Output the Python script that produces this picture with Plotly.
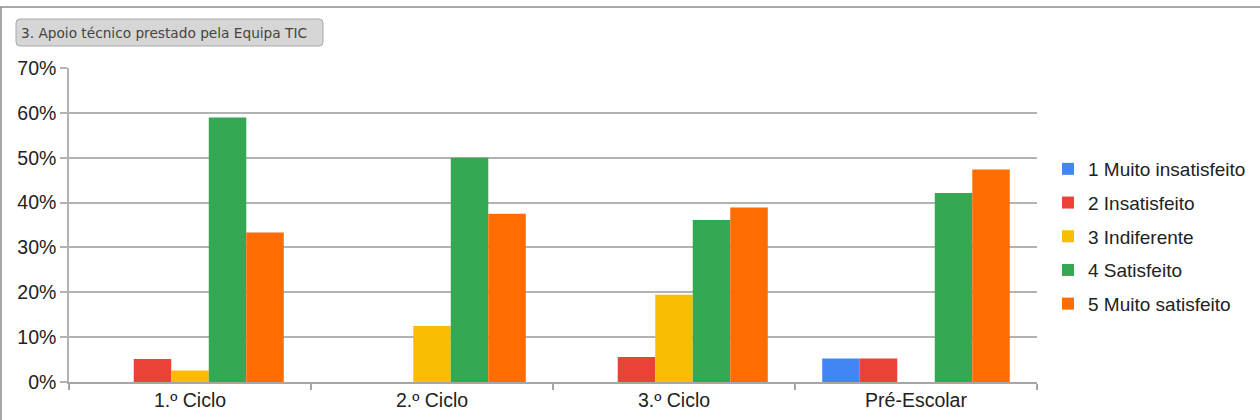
import plotly.graph_objects as go

categories = ["1.º Ciclo", "2.º Ciclo", "3.º Ciclo", "Pré-Escolar"]
series_names = ["1 Muito insatisfeito", "2 Insatisfeito", "3 Indiferente", "4 Satisfeito", "5 Muito satisfeito"]
muito_insatisfeito = [0.0, 0.0, 0.0, 5.26]
insatisfeito = [5.13, 0.0, 5.56, 5.26]
indiferente = [2.56, 12.5, 19.44, 0.0]
satisfeito = [58.97, 50.0, 36.11, 42.11]
muito_satisfeito = [33.33, 37.5, 38.89, 47.37]
colors = ["#4285F4", "#EA4335", "#FBBC04", "#34A853", "#FF6D01"]
y_ticks = [0, 10, 20, 30, 40, 50, 60, 70]
title_text = "3. Apoio técnico prestado pela Equipa TIC"

W, H = 1260, 420
L, R, T, B = 69, 223, 68, 38
pw, ph = W - L - R, H - T - B

def px_x(p):
    return (p - L) / pw

def px_y(p):
    return (H - B - p) / ph

fig = go.Figure()
for i, (name, vals) in enumerate(zip(series_names, [muito_insatisfeito, insatisfeito, indiferente, satisfeito, muito_satisfeito])):
    fig.add_trace(go.Bar(
        x=categories, y=vals, name=name,
        marker=dict(color=colors[i], line=dict(width=0)),
        legendgroup=f"g{i}",
        hoverinfo="skip",
    ))

shapes = [
    # outer frame: top and left lines
    dict(type="line", xref="paper", yref="paper", x0=px_x(0), x1=px_x(W), y0=px_y(7), y1=px_y(7),
         line=dict(color="#8c8c8c", width=1.5)),
    dict(type="line", xref="paper", yref="paper", x0=px_x(1), x1=px_x(1), y0=px_y(7), y1=px_y(H),
         line=dict(color="#8c8c8c", width=1.5)),
]
# rounded title box
x0, x1, y0, y1, r = 16, 323, 19, 46, 4
path = (f"M {px_x(x0 + r)} {px_y(y0)} L {px_x(x1 - r)} {px_y(y0)} "
        f"Q {px_x(x1)} {px_y(y0)} {px_x(x1)} {px_y(y0 + r)} L {px_x(x1)} {px_y(y1 - r)} "
        f"Q {px_x(x1)} {px_y(y1)} {px_x(x1 - r)} {px_y(y1)} L {px_x(x0 + r)} {px_y(y1)} "
        f"Q {px_x(x0)} {px_y(y1)} {px_x(x0)} {px_y(y1 - r)} L {px_x(x0)} {px_y(y0 + r)} "
        f"Q {px_x(x0)} {px_y(y0)} {px_x(x0 + r)} {px_y(y0)} Z")
shapes.append(dict(type="path", xref="paper", yref="paper", path=path,
                   fillcolor="#d6d6d6", line=dict(color="#a8a8a8", width=1)))

fig.update_layout(
    width=W, height=H,
    margin=dict(l=L, r=R, t=T, b=B, pad=0, autoexpand=False),
    paper_bgcolor="white", plot_bgcolor="white",
    barmode="group", bargap=0.225, bargroupgap=0,
    font=dict(family="Liberation Sans, Arial, sans-serif", color="#222222"),
    shapes=shapes,
    annotations=[dict(text=title_text, xref="paper", yref="paper",
                      x=px_x(19), y=px_y(32.5), xanchor="left", yanchor="middle",
                      showarrow=False,
                      font=dict(family="DejaVu Sans, sans-serif", size=13.7, color="#444444"))],
    legend=dict(
        xref="container", yref="container",
        x=1048 / W, y=1 - 150 / H, xanchor="left", yanchor="top",
        font=dict(size=19, color="#222222"),
        itemwidth=30, tracegroupgap=6,
        bgcolor="rgba(0,0,0,0)",
    ),
    showlegend=True,
)
fig.update_xaxes(
    type="category", showline=True, linecolor="#a6a6a6", linewidth=1.5,
    ticks="outside", tickson="boundaries", ticklen=6, tickcolor="#a6a6a6", tickwidth=1.5,
    showgrid=False, tickfont=dict(size=19.5, color="#222222"), automargin=False,
)
fig.update_yaxes(
    range=[0, 70], tickvals=y_ticks, ticktext=[f"{v}%" for v in y_ticks],
    showline=True, linecolor="#b3b3b3", linewidth=1.5,
    ticks="outside", ticklen=7, tickcolor="#b3b3b3", tickwidth=1.5,
    showgrid=True, gridcolor="#b3b3b3", gridwidth=1.5,
    zeroline=False, tickfont=dict(size=19.5, color="#222222"), automargin=False,
)

fig.write_html("out.html", config={"displayModeBar": False},
               post_script="document.body.style.margin='0';")
